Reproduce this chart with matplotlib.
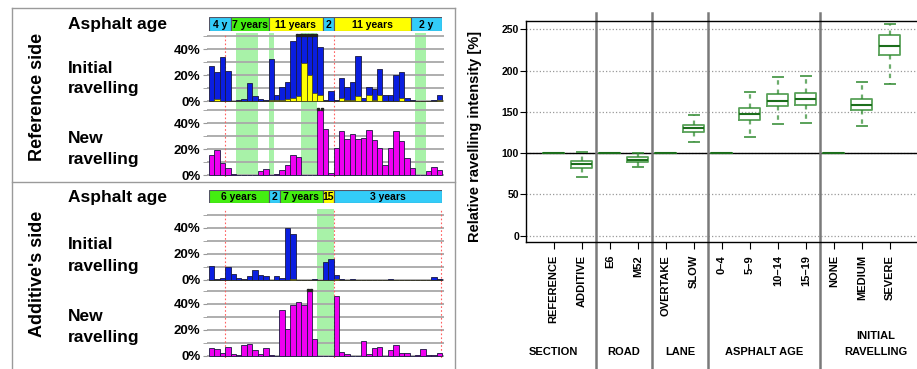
import numpy as np
import matplotlib
matplotlib.use('Agg')
import matplotlib.pyplot as plt
from matplotlib.lines import Line2D
from matplotlib.transforms import blended_transform_factory

plt.rcParams['font.family'] = ['Liberation Sans', 'DejaVu Sans']
plt.rcParams['font.weight'] = 'bold'
plt.rcParams['axes.labelweight'] = 'bold'

# ---------------- data: left panel (43 road segments) ----------------
seg = np.arange(43)

ref_initial = [27, 22, 34, 23, 0, 0.5, 1.5, 14, 3.5, 1.5, 0.5, 32.5, 5, 11, 15, 46,
               50, 50, 50, 50, 41.5, 0.5, 8, 0.5, 18, 11, 15, 35, 2, 11, 9, 25, 5, 5,
               20, 22, 2, 1, 0, 0, 0, 0.5, 5]
ref_initial_severe = [0, 1.3, 0, 0, 0, 0, 0, 0, 0, 0, 0, 1, 0.5, 1, 1.5, 2.5, 4, 29, 20,
                      6, 5, 0, 0, 0, 2.5, 1, 1, 4, 0, 4.5, 0.5, 4.5, 0, 0, 0, 2, 0, 0,
                      0, 0, 0, 0, 1]
ref_new = [15.4, 19, 9.5, 5.4, 0.8, 0, 0, 0, 0, 3, 4.4, 0, 1, 4, 7.5, 15.6, 14, 0, 0, 0,
           50, 35.6, 1.3, 20.8, 33.6, 28, 31.8, 27.7, 28.2, 35, 27, 21, 7.7, 20.8, 34,
           26, 13.3, 5.4, 0, 0, 2.8, 6, 4]

add_initial = [11, 0.8, 1.5, 10, 5, 1.3, 0.8, 3.3, 8, 3.6, 2.8, 0, 2.8, 1.3, 40, 35.4,
               0, 0, 0, 0.8, 0, 14, 16, 3.8, 0.8, 0, 0.8, 0, 0, 0, 0, 0, 0, 0.8, 0, 0,
               0, 0, 0, 0, 0, 2.3, 0.8]
add_initial_severe = [0] * 15 + [0.7] + [0] * 7 + [1] + [0] * 19
add_new = [6.4, 5.6, 2.3, 7, 1.5, 0.8, 8.2, 9.5, 4.9, 1.8, 6.2, 0.5, 0, 35.6, 21, 39.2,
           41.5, 39.5, 50, 13, 0, 0, 0, 46.4, 3, 1.5, 0, 0, 11.3, 1.5, 6, 7, 0, 4.4,
           8.2, 2.3, 2.3, 0, 0.8, 5.6, 0.8, 0.8, 2.3]

ref_shaded = [(5, 9), (11, 12), (17, 20), (38, 40)]
add_shaded = [(20, 23)]
ref_marks = [3, 23]
add_marks = [3, 23, 42.8]

ref_age_edges = [0, 4, 11, 21, 23, 37.3, 43]
ref_age_labels = ['4 y', '7 years', '11 years', '2', '11 years', '2 y']
ref_age_cols = ['c', 'g', 'y', 'c', 'y', 'c']
add_age_edges = [0, 11, 13, 21, 23, 43]
add_age_labels = ['6 years', '2', '7 years', '15', '3 years']
add_age_cols = ['g', 'c', 'g', 'y', 'c']

# ---------------- data: right panel (box plots) ----------------
cats = ['REFERENCE', 'ADDITIVE', 'E6', 'M52', 'OVERTAKE', 'SLOW',
        '0\u20134', '5\u20139', '10\u201314', '15\u201319', 'NONE', 'MEDIUM', 'SEVERE']
whis_hi = [100, 101.8, 100, 100.6, 100, 145.8, 100, 174.1, 192.2, 193, 100, 185.8, 256.5]
q3 = [100, 90.5, 100, 94.9, 100, 134.1, 100, 154.3, 171.2, 172.5, 100, 166, 242.7]
med = [100, 86.4, 100, 92.1, 100, 130, 100, 147, 163.6, 165.2, 100, 158.7, 230.2]
q1 = [100, 82.4, 100, 89.7, 100, 125.6, 100, 140.1, 156.7, 157.9, 100, 152.7, 218.5]
whis_lo = [100, 71.5, 100, 83.6, 100, 113.1, 100, 120, 135.3, 136.9, 100, 132.9, 183.8]
groups = ['SECTION', 'ROAD', 'LANE', 'ASPHALT AGE', 'INITIAL\nRAVELLING']
group_sizes = [2, 2, 2, 4, 3]

# ---------------- figure ----------------
W, H = 917, 369
fig = plt.figure(figsize=(W / 100, H / 100), dpi=100)


def rect(x0, y0, x1, y1):
    return [x0 / W, 1 - y1 / H, (x1 - x0) / W, (y1 - y0) / H]


def fline(xs, ys, **kw):
    fig.add_artist(Line2D([x / W for x in xs], [1 - y / H for y in ys],
                          transform=fig.transFigure, **kw))


BLUE, YEL, MAG = '#0a1ee0', '#ffff00', '#f000f0'
SHADE = '#a8f2a8'
AGECOL = {'c': '#33ccf8', 'g': '#44ee11', 'y': '#ffff00'}
PX = 1.3  # pixels per percent


def bar_panel(y_zero, y_top, y_bot, vals, shaded, marks, color, over=None, full_shade=True):
    ax = fig.add_axes(rect(206.8, y_top, 443.7, y_bot))
    lo, hi = (y_zero - y_bot) / PX, (y_zero - y_top) / PX
    ax.set_xlim(-0.4, 43.3)
    ax.set_ylim(lo, hi)
    for a, b in shaded:
        ax.axvspan(a, b, ymin=0 if full_shade else -lo / (hi - lo), ymax=1,
                   color=SHADE, lw=0, zorder=0)
    for v in range(0, 60, 10):
        ax.axhline(v, color='#a8a8a8', lw=1.3, zorder=1)
    for m in marks:
        ax.axvline(m, color='#ff6060', ls=(0, (1.5, 2)), lw=0.8, zorder=2)
    ax.bar(seg, vals, width=1, align='edge', color=color, edgecolor='#1a1a40',
           lw=0.6, zorder=3)
    if over is not None:
        ax.bar(seg, over, width=1, align='edge', color=YEL, edgecolor='#40401a',
               lw=0.5, zorder=4)
    for i, v in enumerate(vals):
        if v >= 50:
            ax.plot([i + 0.2, i + 0.8], [51, 51], ls='none', marker='s', ms=1.6,
                    color='#222', zorder=5, clip_on=False)
    ax.set_yticks([0, 20, 40])
    ax.set_yticklabels(['0%', '20%', '40%'], fontweight='bold')
    ax.set_yticks([10, 30, 50], minor=True)
    ax.tick_params(axis='y', which='both', length=3, color='#999', labelsize=9.5, pad=1.5)
    ax.set_xticks([])
    for s in ax.spines.values():
        s.set_visible(False)
    return ax


def age_bar(y_top, y_bot, edges, labels, cols):
    ax = fig.add_axes(rect(209.3, y_top, 442, y_bot))
    ax.set_xlim(0, 43)
    ax.set_ylim(0, 1)
    for a, b, t, c in zip(edges[:-1], edges[1:], labels, cols):
        ax.barh(0.5, b - a, left=a, height=1, color=AGECOL[c], edgecolor='#556',
                lw=0.8)
        ax.text((a + b) / 2, 0.45, t, ha='center', va='center', fontsize=7.5)
    ax.axis('off')


# reference side
age_bar(17, 31, ref_age_edges, ref_age_labels, ref_age_cols)
bar_panel(101, 33.0, 102.95, ref_initial, ref_shaded, ref_marks, BLUE, ref_initial_severe)
bar_panel(175, 102.95, 176.95, ref_new, ref_shaded, ref_marks, MAG, full_shade=False)
# additive side
age_bar(190, 203, add_age_edges, add_age_labels, add_age_cols)
bar_panel(280, 209.3, 281.95, add_initial, add_shaded, add_marks, BLUE, add_initial_severe)
bar_panel(356, 281.95, 357.95, add_new, add_shaded, add_marks, MAG, full_shade=False)

# left frame and captions
fcol = '#9a9a9a'
fline([12, 455], [8, 8], color=fcol, lw=1)
fline([12, 12], [8, 369], color=fcol, lw=1)
fline([455, 455], [8, 369], color=fcol, lw=1)
fline([12, 455], [181.5, 181.5], color=fcol, lw=1)

for txt, yb in [('Asphalt age', 29.5), ('Initial', 73.3), ('ravelling', 93.3),
                ('New', 143.3), ('ravelling', 164.3),
                ('Asphalt age', 201.7), ('Initial', 249.3), ('ravelling', 270.7),
                ('New', 320.7), ('ravelling', 341.7)]:
    fig.text(68 / W, 1 - yb / H, txt, ha='left', va='baseline', fontsize=12.5)
fig.text(38 / W, 1 - 97 / H, 'Reference side', rotation=90, ha='center',
         va='center', fontsize=13)
fig.text(38 / W, 1 - 274 / H, "Additive's side", rotation=90, ha='center',
         va='center', fontsize=13)

# ---------------- right panel ----------------
axb = fig.add_axes(rect(525.7, 21.3, 918, 242))
pos = np.arange(1, len(cats) + 1)
stats = [dict(med=m, q1=a, q3=b, whislo=lo, whishi=hi, label=c)
         for m, a, b, lo, hi, c in zip(med, q1, q3, whis_lo, whis_hi, cats)]
gc = '#2f8a2f'
axb.bxp(stats, positions=pos, widths=0.75, capwidths=0.36, showfliers=False,
        boxprops=dict(color=gc, lw=1.3, alpha=0.8),
        whiskerprops=dict(color=gc, lw=1.6, ls=(0, (2, 2.2)), alpha=0.7),
        capprops=dict(color=gc, lw=1.4, alpha=0.8),
        medianprops=dict(color='#1c6e1c', lw=1.5))
axb.set_xlim(0, 14)
axb.set_ylim(-7.63, 259.7)
axb.set_yticks([0, 50, 100, 150, 200, 250])
axb.yaxis.grid(True, ls=':', color='#999', lw=0.9)
axb.set_axisbelow(True)
axb.axhline(100, color='black', lw=1, zorder=1.5)
axb.tick_params(axis='y', length=4, labelsize=7.5, pad=0.8)
axb.tick_params(axis='x', length=5, labelsize=8, pad=4.3, labelrotation=90)
for lab in axb.get_xticklabels() + axb.get_yticklabels():
    lab.set_fontweight('bold')
for s in axb.spines.values():
    s.set_linewidth(1)
axb.spines['right'].set_visible(False)
axb.set_ylabel('Relative ravelling intensity [%]', fontsize=10.5, fontweight='bold')
axb.yaxis.set_label_coords((481.7 - 525.7) / (918 - 525.7), 0.48)

bounds = np.cumsum([0] + group_sizes) + 0.5
for b in bounds[1:-1]:
    axb.axvline(b, ymin=-0.575, ymax=1.0376, clip_on=False, color='#7a7a7a', lw=1.8)
centers = [1.0, 3.5, 5.5, 8.5, 12.5]
tr = blended_transform_factory(axb.transData, fig.transFigure)
for g, cx in zip(groups, centers):
    lines = g.split('\n')
    for k, ln in enumerate(lines):
        yb = 355.3 - 16.3 * (len(lines) - 1 - k)
        axb.text(cx, 1 - yb / H, ln, transform=tr, ha='center', va='baseline',
                 fontsize=8, clip_on=False)

fig.savefig('out.png', dpi=100)
